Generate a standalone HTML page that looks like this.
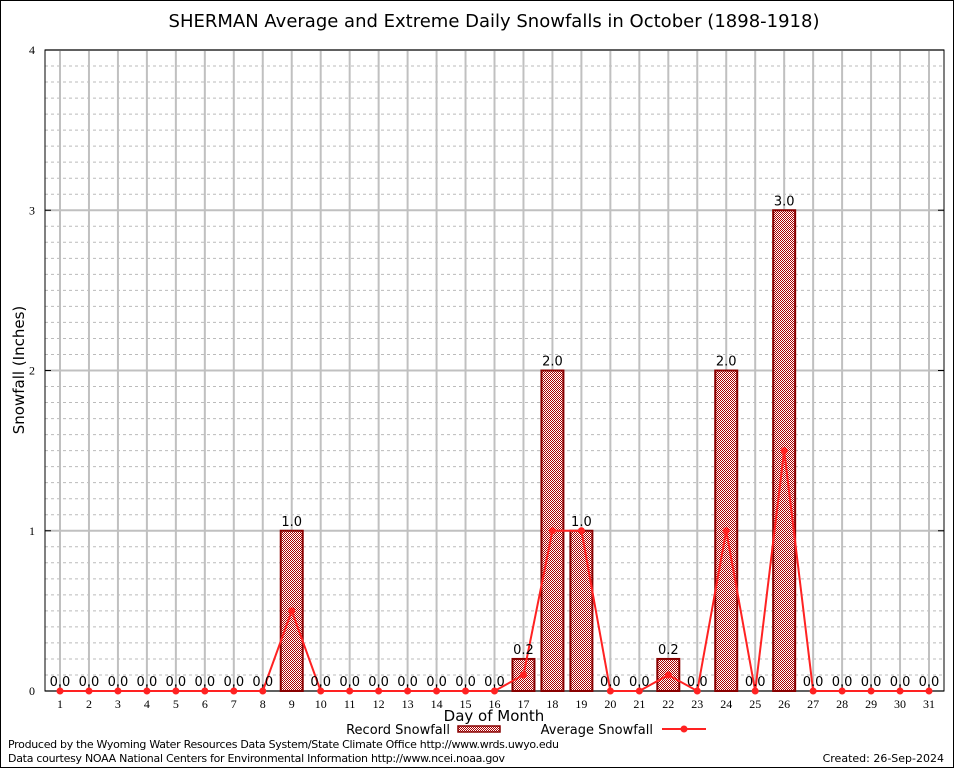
<!DOCTYPE html>
<html><head><meta charset="utf-8"><style>
body{margin:0;background:#fff;}
svg{display:block;font-family:"DejaVu Sans","Liberation Sans",sans-serif;}
</style></head><body>
<svg id="c" width="954" height="768">
<defs><pattern id="pt" width="2" height="2" patternUnits="userSpaceOnUse"><rect width="2" height="2" fill="#fff"/><rect width="1" height="1" fill="#a00"/><rect x="1" y="1" width="1" height="1" fill="#a00"/></pattern></defs>
<rect x="0.5" y="0.5" width="953" height="767" fill="#fff" stroke="#000"/>
<text x="494" y="27" font-size="18" text-anchor="middle">SHERMAN Average and Extreme Daily Snowfalls in October (1898-1918)</text>
<g id="grid"></g><g id="bars"></g><g id="line"></g><g id="labels"></g>
<text transform="translate(24,370) rotate(-90)" font-size="15" text-anchor="middle">Snowfall (Inches)</text>
<text x="494" y="721" font-size="15" text-anchor="middle">Day of Month</text>
<g><text x="450" y="734" font-size="13" text-anchor="end">Record Snowfall</text><rect x="458" y="726" width="42" height="6" fill="url(#pt)" stroke="#800" stroke-width="1.5"/></g>
<g><text x="653" y="734" font-size="13" text-anchor="end">Average Snowfall</text><line x1="662" y1="729" x2="706" y2="729" stroke="#f22" stroke-width="2"/><circle cx="684" cy="729" r="3.5" fill="#f22"/></g>
<text x="8" y="748" font-size="11" textLength="551">Produced by the Wyoming Water Resources Data System/State Climate Office http://www.wrds.uwyo.edu</text>
<text x="8" y="762" font-size="11" textLength="497">Data courtesy NOAA National Centers for Environmental Information http://www.ncei.noaa.gov</text>
<text x="944" y="762" font-size="11" text-anchor="end">Created:  26-Sep-2024</text>
</svg>
<script>
const days=[1,2,3,4,5,6,7,8,9,10,11,12,13,14,15,16,17,18,19,20,21,22,23,24,25,26,27,28,29,30,31];
const record=[0,0,0,0,0,0,0,0,1.0,0,0,0,0,0,0,0,0.2,2.0,1.0,0,0,0.2,0,2.0,0,3.0,0,0,0,0,0];
const average=[0,0,0,0,0,0,0,0,0.5,0,0,0,0,0,0,0,0.1,1.0,1.0,0,0,0.1,0,1.0,0,1.5,0,0,0,0,0];
const yTicks=[0,1,2,3,4];
const NS="http://www.w3.org/2000/svg";
const L=45,R=944,T=50,B=691,ymax=4;
const x=d=>60+(d-1)*(929-60)/30;
const y=v=>B-(v/ymax)*(B-T);
function mk(t,a,p){const e=document.createElementNS(NS,t);for(const k in a)e.setAttribute(k,a[k]);p.appendChild(e);return e;}
const g=document.getElementById('grid');
for(let i=1;i<40;i++){if(i%10==0)continue;const l=mk('line',{x1:L,x2:R,y1:y(i/10),y2:y(i/10),stroke:'#bbb','stroke-dasharray':'3,3'},g);

}
days.forEach(d=>{const l=mk('line',{x1:x(d),x2:x(d),y1:T,y2:B,stroke:'#c0c0c0','stroke-width':2},g);


const t=mk('text',{x:x(d),y:B+17,'font-size':12,'text-anchor':'middle','font-family':'Liberation Serif,serif'},g);t.textContent=d;


mk('line',{x1:x(d),x2:x(d),y1:B,y2:B-6,stroke:'#000'},g);});
yTicks.forEach(v=>{const l=mk('line',{x1:L,x2:R,y1:y(v),y2:y(v),stroke:'#c0c0c0','stroke-width':2},g);


mk('line',{x1:L,x2:L+6,y1:y(v),y2:y(v),stroke:'#000'},g);mk('line',{x1:R-6,x2:R,y1:y(v),y2:y(v),stroke:'#000'},g);
const t=mk('text',{x:L-10,y:y(v)+4,'font-size':12,'text-anchor':'end','font-family':'Liberation Serif,serif'},g);t.textContent=v;

});
mk('rect',{x:L,y:T,width:R-L,height:B-T,fill:'none',stroke:'#000'},g);
const bg=document.getElementById('bars'),lg=document.getElementById('labels');
days.forEach((d,i)=>{const v=record[i];
if(v>0){const r=mk('rect',{x:x(d)-11,y:y(v),width:22,height:B-y(v),fill:'url(#pt)',stroke:'#800','stroke-width':2},bg);

}
const t=mk('text',{x:x(d),y:y(v)-5,'font-size':13,'text-anchor':'middle'},lg);t.textContent=v.toFixed(1);

});
const ln=document.getElementById('line');
const p=mk('polyline',{points:days.map((d,i)=>x(d)+','+y(average[i])).join(' '),fill:'none',stroke:'#f22','stroke-width':2},ln);


days.forEach((d,i)=>{const c=mk('circle',{cx:x(d),cy:y(average[i]),r:3.5,fill:'#f22'},ln);

});
</script>
</body></html>
